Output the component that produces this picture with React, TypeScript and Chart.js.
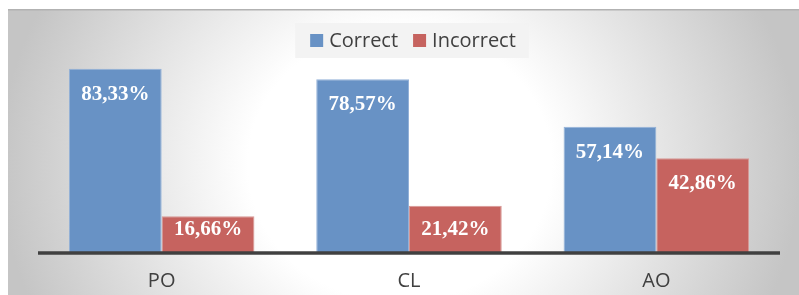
import React, { useEffect, useRef } from "react";
import { Chart, registerables } from "chart.js";

Chart.register(...registerables);

const categories = ["PO", "CL", "AO"];
const seriesNames = ["Correct", "Incorrect"];
const correctValues = [83.33, 78.57, 57.14];
const incorrectValues = [16.66, 21.42, 42.86];
const yMin = 0;
const yMax = 100;

const colors = ["#6892c5", "#c6635f"];
const borderColors = ["#93b1d8", "#d79895"];

const fmt = (v: number) => v.toFixed(2).replace(".", ",") + "%";

const backgroundPlugin = {
  id: "bgPanel",
  beforeDraw(chart: any) {
    const ctx = chart.ctx;
    const W = chart.width;
    const H = chart.height;
    ctx.save();
    ctx.fillStyle = "#ffffff";
    ctx.fillRect(0, 0, W, H);
    ctx.beginPath();
    ctx.rect(8, 9, W - 8, H - 9);
    ctx.clip();
    ctx.translate(400, 165);
    ctx.scale(1, 360 / 400);
    const g = ctx.createRadialGradient(0, 0, 0, 0, 0, 400);
    g.addColorStop(0, "#ffffff");
    g.addColorStop(0.38, "#ffffff");
    g.addColorStop(1, "#c5c5c5");
    ctx.fillStyle = g;
    ctx.fillRect(-1000, -1000, 2000, 2000);
    ctx.restore();
    ctx.save();
    ctx.fillStyle = "#b2b2b2";
    ctx.fillRect(8, 9, W - 8, 1.5);
    ctx.restore();
  },
};

const axisAndLabelsPlugin = {
  id: "axisLabels",
  afterDatasetsDraw(chart: any) {
    const ctx = chart.ctx;
    const area = chart.chartArea;
    ctx.save();
    ctx.strokeStyle = "#404040";
    ctx.lineWidth = 3.5;
    ctx.beginPath();
    ctx.moveTo(area.left, area.bottom);
    ctx.lineTo(area.right, area.bottom);
    ctx.stroke();

    ctx.fillStyle = "#ffffff";
    ctx.font = "bold 21px 'Liberation Serif', 'Times New Roman', serif";
    ctx.textAlign = "center";
    ctx.textBaseline = "middle";
    chart.data.datasets.forEach((ds: any, di: number) => {
      const meta = chart.getDatasetMeta(di);
      meta.data.forEach((el: any, i: number) => {
        const v = ds.data[i];
        const cy = Math.min(el.y + 24.5, el.base - 24);
        ctx.fillText(fmt(v), el.x, cy + 1);
      });
    });
    ctx.restore();
  },
  afterDraw(chart: any) {
    const ctx = chart.ctx;
    ctx.save();
    ctx.font = "20px 'Open Sans', sans-serif";
    const widths = seriesNames.map((n) => ctx.measureText(n).width);
    const sq = 13;
    const gapText = 6;
    const gapItem = 15;
    const total =
      widths.reduce((a, b) => a + b, 0) +
      seriesNames.length * (sq + gapText) +
      gapItem * (seriesNames.length - 1);
    const cx = 413;
    let x = cx - total / 2;
    const boxL = x - 15;
    const boxR = cx + total / 2 + 13;
    ctx.fillStyle = "rgba(242,242,242,0.92)";
    ctx.fillRect(boxL, 23, boxR - boxL, 35);
    ctx.textBaseline = "alphabetic";
    ctx.textAlign = "left";
    seriesNames.forEach((n, i) => {
      ctx.fillStyle = colors[i];
      ctx.fillRect(x, 34, sq, sq);
      ctx.fillStyle = "#404040";
      ctx.fillText(n, x + sq + gapText, 47);
      x += sq + gapText + widths[i] + gapItem;
    });
    ctx.restore();
  },
};

export default function App() {
  const ref = useRef<HTMLCanvasElement | null>(null);
  useEffect(() => {
    if (!ref.current) return;
    const chart = new Chart(ref.current, {
      type: "bar",
      data: {
        labels: categories,
        datasets: [
          {
            label: seriesNames[0],
            data: correctValues,
            backgroundColor: colors[0],
            borderColor: borderColors[0],
            borderWidth: 1,
          },
          {
            label: seriesNames[1],
            data: incorrectValues,
            backgroundColor: colors[1],
            borderColor: borderColors[1],
            borderWidth: 1,
          },
        ],
      },
      options: {
        responsive: false,
        animation: false,
        devicePixelRatio: 1,
        events: [],
        layout: { padding: { left: 38, right: 19, top: 32, bottom: 0 } },
        datasets: { bar: { categoryPercentage: 0.75, barPercentage: 1.0 } },
        plugins: {
          legend: { display: false },
          tooltip: { enabled: false },
          title: { display: false },
        },
        scales: {
          x: {
            grid: { display: false, drawTicks: false },
            border: { display: false },
            ticks: {
              color: "#404040",
              font: { family: "'Open Sans', sans-serif", size: 20 },
              padding: 16,
            },
            afterFit: (s: any) => {
              s.height = 42;
            },
          },
          y: {
            display: false,
            min: yMin,
            max: yMax,
          },
        },
      },
      plugins: [backgroundPlugin, axisAndLabelsPlugin],
    });
    return () => chart.destroy();
  }, []);
  return (
    <canvas
      ref={ref}
      width={799}
      height={295}
      style={{ position: "fixed", left: 0, top: 0, width: 799, height: 295 }}
    />
  );
}
